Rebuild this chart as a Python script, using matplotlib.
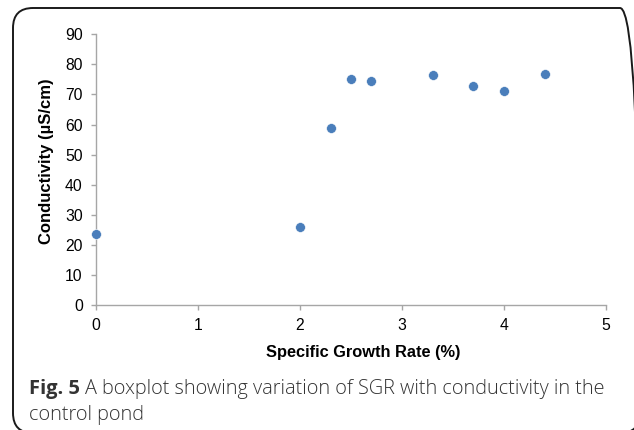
import matplotlib.pyplot as plt
from matplotlib.patches import FancyBboxPatch
from matplotlib.transforms import IdentityTransform

# data
sgr = [0, 2, 2.3, 2.5, 2.7, 3.3, 3.7, 4.0, 4.4]
conductivity = [23.6, 26.0, 58.9, 75.3, 74.4, 76.4, 72.7, 71.1, 76.9]
x_ticks = [0, 1, 2, 3, 4, 5]
y_ticks = [0, 10, 20, 30, 40, 50, 60, 70, 80, 90]

W, H = 634, 430
fig = plt.figure(figsize=(W / 100, H / 100), dpi=100)
plt.rcParams['font.family'] = ['Liberation Sans', 'DejaVu Sans']

# rounded frame around the whole figure (pixel coords, origin bottom-left)
# right side sits just past the image edge, only the top-right bend shows
frame = FancyBboxPatch((13, H - 433), 640 - 13, 433 - 8,
                       boxstyle="round,pad=0,rounding_size=20",
                       transform=IdentityTransform(), facecolor='none',
                       edgecolor='#1a1a1a', linewidth=1.4, clip_on=False)
fig.patches.append(frame)

ax = fig.add_axes([96 / W, 1 - 305 / H, 510 / W, (305 - 34.3) / H])
ax.scatter(sgr, conductivity, s=50, color='#4a7ebb', edgecolor='white',
           linewidth=0.4, zorder=3, clip_on=False)

ax.set_xlim(0, 5)
ax.set_ylim(0, 90)
ax.set_xticks(x_ticks)
ax.set_yticks(y_ticks)
for s in ['top', 'right']:
    ax.spines[s].set_visible(False)
for s in ['left', 'bottom']:
    ax.spines[s].set_color('#a6a6a6')
    ax.spines[s].set_linewidth(1.0)
ax.tick_params(direction='out', length=3.5, width=1.0, color='#a6a6a6',
               labelsize=11.3, labelcolor='black', pad=6)

fig.text(363 / W, 1 - 352 / H, 'Specific Growth Rate (%)', ha='center',
         va='center', fontsize=11.8, fontweight='bold')
fig.text(47 / W, 1 - 161 / H, 'Conductivity (µS/cm)', ha='center',
         va='center', rotation=90, fontsize=12, fontweight='bold')

# caption
cap_font = ['Open Sans', 'DejaVu Sans']
t1 = fig.text(29 / W, 1 - 394 / H, 'Fig. 5', fontsize=14.5, fontweight='bold',
              family=cap_font, color='#333333', va='baseline')
fig.canvas.draw()
bb = t1.get_window_extent()
fig.text(bb.x1 / W + 5 / W, 1 - 394 / H,
         'A boxplot showing variation of SGR with conductivity in the',
         fontsize=14.3, fontweight='light', family=cap_font, color='#333333',
         va='baseline')
fig.text(29 / W, 1 - 420 / H, 'control pond', fontsize=14.3,
         fontweight='light', family=cap_font, color='#333333', va='baseline')

fig.savefig('out.png', dpi=100)
